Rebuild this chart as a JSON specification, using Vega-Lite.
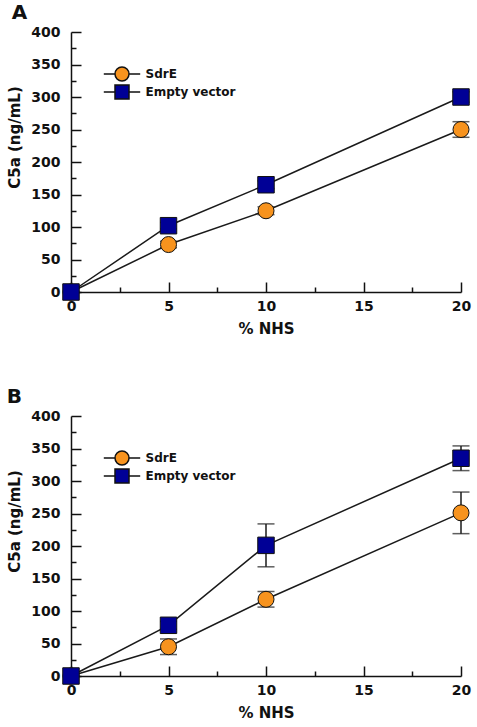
{
  "$schema": "https://vega.github.io/schema/vega-lite/v6.json",
  "padding": {"left": 6, "top": 3, "right": 0, "bottom": 0},
  "background": "white",
  "spacing": 51,
  "config": {
    "view": {"stroke": null},
    "font": "DejaVu Sans",
    "axis": {
      "grid": false,
      "domainColor": "#111",
      "domainWidth": 1.5,
      "tickColor": "#111",
      "tickWidth": 1.5,
      "labelFont": "DejaVu Sans",
      "labelFontWeight": "bold",
      "labelFontSize": 14,
      "labelColor": "#111",
      "titleFont": "DejaVu Sans",
      "titleFontWeight": "bold",
      "titleFontSize": 15,
      "titleColor": "#111"
    },
    "legend": {
      "title": null, "orient": "none", "legendX": 43, "padding": 0,
      "symbolSize": 196, "labelOffset": 15.5,
      "labelFont": "DejaVu Sans", "labelFontWeight": "bold", "labelFontSize": 12, "labelColor": "#111"
    },
    "title": {"font": "DejaVu Sans", "fontWeight": "bold", "fontSize": 20, "color": "#111", "anchor": "start", "frame": "bounds", "offset": 2}
  },
  "datasets": {
    "c5a": [
      {"panel": "A", "series": "SdrE", "nhs": 0, "mean": 0, "err": 0},
      {"panel": "A", "series": "SdrE", "nhs": 5, "mean": 73, "err": 5},
      {"panel": "A", "series": "SdrE", "nhs": 10, "mean": 125, "err": 6},
      {"panel": "A", "series": "SdrE", "nhs": 20, "mean": 250, "err": 12},
      {"panel": "A", "series": "Empty vector", "nhs": 0, "mean": 0, "err": 0},
      {"panel": "A", "series": "Empty vector", "nhs": 5, "mean": 102, "err": 5},
      {"panel": "A", "series": "Empty vector", "nhs": 10, "mean": 165, "err": 6},
      {"panel": "A", "series": "Empty vector", "nhs": 20, "mean": 300, "err": 8},
      {"panel": "B", "series": "SdrE", "nhs": 0, "mean": 0, "err": 0},
      {"panel": "B", "series": "SdrE", "nhs": 5, "mean": 45, "err": 12},
      {"panel": "B", "series": "SdrE", "nhs": 10, "mean": 118, "err": 12},
      {"panel": "B", "series": "SdrE", "nhs": 20, "mean": 251, "err": 32},
      {"panel": "B", "series": "Empty vector", "nhs": 0, "mean": 0, "err": 0},
      {"panel": "B", "series": "Empty vector", "nhs": 5, "mean": 78, "err": 6},
      {"panel": "B", "series": "Empty vector", "nhs": 10, "mean": 201, "err": 33},
      {"panel": "B", "series": "Empty vector", "nhs": 20, "mean": 335, "err": 19}
    ],
    "headings": [
      {"panel": "A", "label": "All pathways"},
      {"panel": "B", "label": "Alternative pathway"}
    ]
  },
  "vconcat": [
    {
      "title": {"text": "A", "dx": 4},
      "width": 390,
      "height": 260,
      "encoding": {
        "x": {
          "field": "nhs", "type": "quantitative", "title": "% NHS",
          "scale": {"domain": [0, 20], "nice": false, "zero": false},
          "axis": {
            "values": [0, 2.5, 5, 7.5, 10, 12.5, 15, 17.5, 20],
            "labelExpr": "datum.value % 5 === 0 ? datum.label : ''",
            "tickSize": {"condition": {"test": "datum.value % 5 === 0", "value": -10}, "value": -5},
            "labelPadding": 17,
            "labelFlush": false,
            "titlePadding": 8
          }
        },
        "y": {
          "field": "mean", "type": "quantitative", "title": "C5a (ng/mL)",
          "scale": {"domain": [0, 400], "nice": false},
          "axis": {
            "values": [0, 25, 50, 75, 100, 125, 150, 175, 200, 225, 250, 275, 300, 325, 350, 375, 400],
            "labelExpr": "datum.value % 50 === 0 ? datum.label : ''",
            "tickSize": {"condition": {"test": "datum.value % 50 === 0", "value": -10}, "value": -5},
            "labelPadding": 21,
            "labelFlush": false,
            "titlePadding": 8,
            "titleY": 105
          }
        }
      },
      "layer": [
        {
          "data": {"name": "c5a"},
          "transform": [{"filter": "datum.panel === 'A' && datum.err > 0"}],
          "mark": {"type": "errorbar", "ticks": {"size": 17, "thickness": 1.5, "color": "#1a1a1a"}, "thickness": 1.5, "color": "#1a1a1a"},
          "encoding": {"yError": {"field": "err"}, "detail": {"field": "series"}}
        },
        {
          "data": {"name": "c5a"},
          "transform": [{"filter": "datum.panel === 'A'"}],
          "mark": {"type": "line", "color": "#1a1a1a", "strokeWidth": 1.5},
          "encoding": {"detail": {"field": "series"}}
        },
        {
          "data": {"name": "c5a"},
          "transform": [{"filter": "datum.panel === 'A' && datum.series === 'SdrE'"}],
          "mark": {"type": "point", "shape": "circle", "filled": true, "opacity": 1, "size": 256, "stroke": "#111", "strokeWidth": 1},
          "encoding": {
            "fill": {
              "field": "series", "type": "nominal",
              "scale": {"domain": ["SdrE"], "range": ["#F7931E"]},
              "legend": {
                "legendY": 34,
                "symbolType": "M-2.6,0H-1M1,0H2.6M1,0A1,1,0,1,1,-1,0A1,1,0,1,1,1,0Z",
                "encode": {"symbols": {"stroke": {"value": "#111"}, "strokeWidth": {"value": 1.3}}}
              }
            }
          }
        },
        {
          "data": {"name": "c5a"},
          "transform": [{"filter": "datum.panel === 'A' && datum.series === 'Empty vector'"}],
          "mark": {"type": "point", "shape": "square", "filled": true, "opacity": 1, "size": 272, "stroke": "#111", "strokeWidth": 1},
          "encoding": {
            "fill": {
              "field": "series", "type": "nominal",
              "scale": {"domain": ["Empty vector"], "range": ["#000096"]},
              "legend": {
                "legendY": 52,
                "symbolType": "M-2.6,0H-1M1,0H2.6M-1,-1H1V1H-1Z",
                "encode": {"symbols": {"stroke": {"value": "#111"}, "strokeWidth": {"value": 1.3}}}
              }
            }
          }
        },
        {
          "data": {"name": "headings"},
          "transform": [{"filter": "datum.panel === 'A'"}],
          "mark": {"type": "text", "font": "DejaVu Sans", "fontWeight": "bold", "fontSize": 14, "color": "#111", "align": "center", "baseline": "middle"},
          "encoding": {"x": {"datum": 10.5}, "y": {"datum": 390}, "text": {"field": "label"}}
        }
      ],
      "resolve": {"scale": {"fill": "independent"}, "legend": {"fill": "independent"}}
    },
    {
      "title": {"text": "B", "dx": -1},
      "width": 390,
      "height": 260,
      "encoding": {
        "x": {
          "field": "nhs", "type": "quantitative", "title": "% NHS",
          "scale": {"domain": [0, 20], "nice": false, "zero": false},
          "axis": {
            "values": [0, 2.5, 5, 7.5, 10, 12.5, 15, 17.5, 20],
            "labelExpr": "datum.value % 5 === 0 ? datum.label : ''",
            "tickSize": {"condition": {"test": "datum.value % 5 === 0", "value": -10}, "value": -5},
            "labelPadding": 17,
            "labelFlush": false,
            "titlePadding": 8
          }
        },
        "y": {
          "field": "mean", "type": "quantitative", "title": "C5a (ng/mL)",
          "scale": {"domain": [0, 400], "nice": false},
          "axis": {
            "values": [0, 25, 50, 75, 100, 125, 150, 175, 200, 225, 250, 275, 300, 325, 350, 375, 400],
            "labelExpr": "datum.value % 50 === 0 ? datum.label : ''",
            "tickSize": {"condition": {"test": "datum.value % 50 === 0", "value": -10}, "value": -5},
            "labelPadding": 21,
            "labelFlush": false,
            "titlePadding": 8,
            "titleY": 105
          }
        }
      },
      "layer": [
        {
          "data": {"name": "c5a"},
          "transform": [{"filter": "datum.panel === 'B' && datum.err > 0"}],
          "mark": {"type": "errorbar", "ticks": {"size": 17, "thickness": 1.5, "color": "#1a1a1a"}, "thickness": 1.5, "color": "#1a1a1a"},
          "encoding": {"yError": {"field": "err"}, "detail": {"field": "series"}}
        },
        {
          "data": {"name": "c5a"},
          "transform": [{"filter": "datum.panel === 'B'"}],
          "mark": {"type": "line", "color": "#1a1a1a", "strokeWidth": 1.5},
          "encoding": {"detail": {"field": "series"}}
        },
        {
          "data": {"name": "c5a"},
          "transform": [{"filter": "datum.panel === 'B' && datum.series === 'SdrE'"}],
          "mark": {"type": "point", "shape": "circle", "filled": true, "opacity": 1, "size": 256, "stroke": "#111", "strokeWidth": 1},
          "encoding": {
            "fill": {
              "field": "series", "type": "nominal",
              "scale": {"domain": ["SdrE"], "range": ["#F7931E"]},
              "legend": {
                "legendY": 34,
                "symbolType": "M-2.6,0H-1M1,0H2.6M1,0A1,1,0,1,1,-1,0A1,1,0,1,1,1,0Z",
                "encode": {"symbols": {"stroke": {"value": "#111"}, "strokeWidth": {"value": 1.3}}}
              }
            }
          }
        },
        {
          "data": {"name": "c5a"},
          "transform": [{"filter": "datum.panel === 'B' && datum.series === 'Empty vector'"}],
          "mark": {"type": "point", "shape": "square", "filled": true, "opacity": 1, "size": 272, "stroke": "#111", "strokeWidth": 1},
          "encoding": {
            "fill": {
              "field": "series", "type": "nominal",
              "scale": {"domain": ["Empty vector"], "range": ["#000096"]},
              "legend": {
                "legendY": 52,
                "symbolType": "M-2.6,0H-1M1,0H2.6M-1,-1H1V1H-1Z",
                "encode": {"symbols": {"stroke": {"value": "#111"}, "strokeWidth": {"value": 1.3}}}
              }
            }
          }
        },
        {
          "data": {"name": "headings"},
          "transform": [{"filter": "datum.panel === 'B'"}],
          "mark": {"type": "text", "font": "DejaVu Sans", "fontWeight": "bold", "fontSize": 14, "color": "#111", "align": "center", "baseline": "middle"},
          "encoding": {"x": {"datum": 10.85}, "y": {"datum": 395}, "text": {"field": "label"}}
        }
      ],
      "resolve": {"scale": {"fill": "independent"}, "legend": {"fill": "independent"}}
    }
  ],
  "resolve": {"scale": {"fill": "independent"}, "legend": {"fill": "independent"}}
}
